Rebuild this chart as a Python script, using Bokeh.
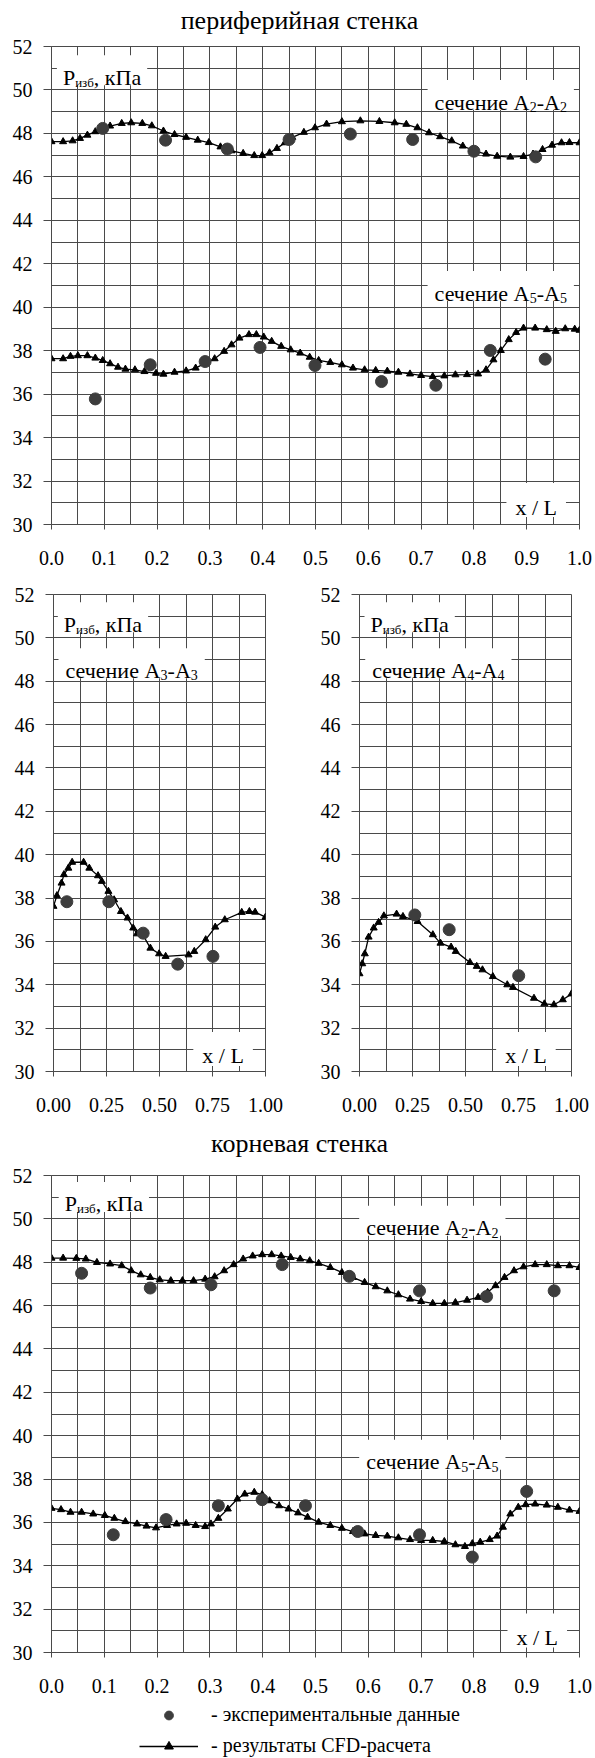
from bokeh.plotting import figure
from bokeh.layouts import column, row
from bokeh.models import Range1d, FixedTicker, PrintfTickFormatter, Legend, LegendItem
from bokeh.core.properties import value
from bokeh.embed import file_html
from bokeh.resources import INLINE

FONT = "Liberation Serif"
GRID = "#4a4a4a"
DOT = "#3d3d3d"

# ---------------- data ----------------
# peripheral wall, section A2-A2
per_a2_cfd_x = [0, 0.022, 0.040, 0.054, 0.068, 0.083, 0.097, 0.111, 0.133, 0.151, 0.172, 0.190, 0.212,
                0.233, 0.255, 0.277, 0.298, 0.320, 0.341, 0.363, 0.384, 0.399, 0.413, 0.427, 0.442, 0.456,
                0.478, 0.499, 0.521, 0.550, 0.585, 0.621, 0.650, 0.672, 0.693, 0.715, 0.736, 0.758, 0.779,
                0.801, 0.823, 0.844, 0.869, 0.894, 0.912, 0.930, 0.948, 0.966, 0.981, 1.0]
per_a2_cfd_y = [47.62, 47.62, 47.66, 47.77, 47.92, 48.08, 48.23, 48.34, 48.46, 48.49, 48.46, 48.35, 48.11,
                47.95, 47.82, 47.69, 47.58, 47.38, 47.20, 47.08, 46.98, 46.98, 47.11, 47.31, 47.57, 47.82,
                48.05, 48.26, 48.43, 48.54, 48.58, 48.55, 48.49, 48.42, 48.26, 48.03, 47.85, 47.66, 47.42,
                47.20, 47.05, 46.95, 46.91, 46.94, 47.05, 47.26, 47.46, 47.57, 47.58, 47.57]
per_a2_exp_x = [0.097, 0.216, 0.333, 0.450, 0.566, 0.684, 0.800, 0.917]
per_a2_exp_y = [48.23, 47.69, 47.28, 47.72, 47.97, 47.72, 47.18, 46.92]

# peripheral wall, section A5-A5
per_a5_cfd_x = [0, 0.022, 0.036, 0.050, 0.068, 0.083, 0.097, 0.111, 0.126, 0.140, 0.158, 0.176, 0.198,
                0.212, 0.233, 0.255, 0.273, 0.291, 0.309, 0.327, 0.341, 0.356, 0.374, 0.388, 0.402, 0.417,
                0.435, 0.453, 0.471, 0.489, 0.506, 0.528, 0.550, 0.571, 0.593, 0.614, 0.636, 0.657, 0.679,
                0.700, 0.722, 0.744, 0.765, 0.787, 0.808, 0.823, 0.837, 0.851, 0.866, 0.880, 0.894, 0.916,
                0.938, 0.955, 0.973, 0.991, 1.0]
per_a5_cfd_y = [37.63, 37.63, 37.74, 37.77, 37.77, 37.66, 37.55, 37.40, 37.24, 37.15, 37.12, 37.04, 36.96,
                36.92, 37.01, 37.07, 37.20, 37.43, 37.63, 37.97, 38.27, 38.58, 38.74, 38.74, 38.63, 38.43,
                38.20, 38.04, 37.89, 37.70, 37.55, 37.46, 37.35, 37.20, 37.12, 37.09, 37.06, 37.01, 36.93,
                36.86, 36.81, 36.84, 36.89, 36.90, 36.93, 37.12, 37.58, 38.01, 38.51, 38.84, 39.04, 39.04,
                38.97, 38.89, 39.01, 38.99, 38.94]
per_a5_exp_x = [0.083, 0.187, 0.291, 0.395, 0.499, 0.625, 0.728, 0.831, 0.935]
per_a5_exp_y = [35.78, 37.35, 37.50, 38.15, 37.32, 36.58, 36.41, 38.01, 37.61]

# section A3-A3
a3_cfd_x = [0, 0.016, 0.038, 0.049, 0.070, 0.088, 0.142, 0.169, 0.210, 0.228, 0.259, 0.286, 0.318, 0.349,
            0.376, 0.394, 0.421, 0.457, 0.498, 0.529, 0.637, 0.664, 0.718, 0.763, 0.808, 0.888, 0.924,
            0.951, 1.0]
a3_cfd_y = [37.62, 38.11, 38.69, 39.08, 39.38, 39.65, 39.65, 39.38, 39.03, 38.77, 38.31, 37.92, 37.38,
            37.08, 36.62, 36.35, 36.31, 35.69, 35.43, 35.31, 35.38, 35.54, 36.08, 36.66, 37.00, 37.34,
            37.38, 37.35, 37.12]
a3_exp_x = [0.063, 0.261, 0.423, 0.586, 0.752]
a3_exp_y = [37.83, 37.83, 36.38, 34.95, 35.31]

# section A4-A4
a4_cfd_x = [0, 0.013, 0.025, 0.043, 0.067, 0.090, 0.115, 0.175, 0.205, 0.274, 0.346, 0.382, 0.432,
            0.454, 0.521, 0.553, 0.580, 0.629, 0.697, 0.724, 0.823, 0.872, 0.917, 0.959, 1.0]
a4_cfd_y = [34.51, 34.97, 35.43, 36.20, 36.62, 36.88, 37.18, 37.26, 37.15, 36.92, 36.31, 35.92, 35.74,
            35.54, 35.03, 34.85, 34.69, 34.38, 34.00, 33.88, 33.38, 33.12, 33.08, 33.31, 33.58]
a4_exp_x = [0.261, 0.423, 0.751]
a4_exp_y = [37.22, 36.54, 34.42]

# root wall, section A2-A2
root_a2_cfd_x = [0, 0.022, 0.047, 0.065, 0.086, 0.111, 0.133, 0.151, 0.169, 0.187, 0.205, 0.226, 0.248,
                 0.269, 0.291, 0.309, 0.327, 0.345, 0.363, 0.381, 0.399, 0.417, 0.435, 0.453, 0.471, 0.489,
                 0.506, 0.528, 0.550, 0.571, 0.593, 0.614, 0.636, 0.657, 0.679, 0.700, 0.722, 0.744, 0.765,
                 0.787, 0.808, 0.826, 0.841, 0.858, 0.876, 0.894, 0.916, 0.938, 0.959, 0.981, 1.0]
root_a2_cfd_y = [48.19, 48.19, 48.18, 48.15, 47.99, 47.92, 47.84, 47.61, 47.42, 47.30, 47.19, 47.15, 47.15,
                 47.15, 47.22, 47.33, 47.61, 47.89, 48.15, 48.29, 48.35, 48.35, 48.29, 48.22, 48.15, 48.07,
                 47.95, 47.76, 47.53, 47.30, 47.07, 46.87, 46.68, 46.50, 46.30, 46.19, 46.10, 46.10, 46.14,
                 46.25, 46.38, 46.61, 46.92, 47.30, 47.61, 47.79, 47.89, 47.89, 47.84, 47.84, 47.76]
root_a2_exp_x = [0.057, 0.187, 0.302, 0.437, 0.564, 0.697, 0.824, 0.952]
root_a2_exp_y = [47.49, 46.81, 46.96, 47.89, 47.35, 46.68, 46.42, 46.68]

# root wall, section A5-A5
root_a5_cfd_x = [0, 0.018, 0.036, 0.057, 0.079, 0.101, 0.119, 0.140, 0.162, 0.180, 0.198, 0.219, 0.237,
                 0.255, 0.273, 0.291, 0.302, 0.316, 0.334, 0.352, 0.366, 0.384, 0.399, 0.413, 0.431, 0.449,
                 0.467, 0.485, 0.506, 0.528, 0.550, 0.571, 0.593, 0.614, 0.636, 0.657, 0.679, 0.700, 0.722,
                 0.744, 0.765, 0.783, 0.797, 0.812, 0.830, 0.844, 0.855, 0.869, 0.884, 0.898, 0.916, 0.938,
                 0.959, 0.981, 1.0]
root_a5_cfd_y = [36.65, 36.59, 36.47, 36.47, 36.39, 36.32, 36.19, 36.04, 35.93, 35.83, 35.75, 35.86, 35.93,
                 35.96, 35.86, 35.81, 35.93, 36.19, 36.62, 37.08, 37.31, 37.39, 37.28, 37.00, 36.77, 36.62,
                 36.44, 36.24, 36.01, 35.86, 35.73, 35.58, 35.47, 35.40, 35.37, 35.29, 35.21, 35.17, 35.17,
                 35.12, 34.97, 34.89, 35.02, 35.09, 35.21, 35.37, 35.78, 36.39, 36.70, 36.82, 36.85, 36.80,
                 36.70, 36.57, 36.51]
root_a5_exp_x = [0.117, 0.217, 0.316, 0.399, 0.481, 0.580, 0.697, 0.797, 0.900]
root_a5_exp_y = [35.43, 36.13, 36.77, 37.05, 36.77, 35.58, 35.43, 34.40, 37.43]

# axes / tick definitions
y_ticks = list(range(30, 53, 2))
y_grid = list(range(30, 53, 1))
x_ticks_wide = [i / 10 for i in range(11)]
x_grid_wide = [i / 20 for i in range(21)]
x_ticks_narrow = [i / 4 for i in range(5)]
x_grid_narrow = [i / 8 for i in range(9)]

TITLE_TOP = "периферийная стенка"
TITLE_BOTTOM = "корневая стенка"
LEG_EXP = "- экспериментальные данные"
LEG_CFD = "- результаты CFD-расчета"

# approximate advance widths (em) for Liberation Serif
CW = {'P': 0.556, 'A': 0.722, 'x': 0.5, 'L': 0.611, '/': 0.278, ' ': 0.25, ',': 0.25, '-': 0.333,
      'а': 0.444, 'б': 0.509, 'в': 0.472, 'е': 0.444, 'з': 0.395, 'и': 0.535, 'к': 0.486, 'н': 0.535,
      'П': 0.722, 'с': 0.444, 'ч': 0.503}

# frame borders shared by the full-width panels (the column aligns them)
WIDE_LEFT, WIDE_RIGHT = 51, 16


def tw(s, size):
    return sum(CW.get(c, 0.5) for c in s) * size


def make_plot(width, height, mbl, mbr, mbt, mbb, xt, xg, fmt):
    p = figure(width=width, height=height, x_range=Range1d(0, 1), y_range=Range1d(30, 52),
               output_backend="svg", toolbar_location=None,
               min_border_left=mbl, min_border_right=mbr, min_border_top=mbt, min_border_bottom=mbb)
    p.background_fill_color = "white"
    p.border_fill_color = "white"
    p.outline_line_color = GRID
    p.outline_line_width = 1
    for ax in (p.xaxis, p.yaxis):
        ax.axis_line_color = GRID
        ax.major_tick_line_color = GRID
        ax.minor_tick_line_color = None
        ax.major_tick_in = 0
        ax.major_label_text_font = FONT
        ax.major_label_text_font_size = "20px"
        ax.major_label_text_color = "black"
    p.xaxis.ticker = FixedTicker(ticks=xt)
    p.xaxis.formatter = PrintfTickFormatter(format=fmt)
    p.xaxis.major_tick_out = 5
    p.xaxis.major_label_standoff = 21
    p.yaxis.ticker = FixedTicker(ticks=y_ticks)
    p.yaxis.formatter = PrintfTickFormatter(format="%d")
    p.yaxis.major_tick_out = 8
    p.yaxis.major_label_standoff = 11
    p.xgrid.ticker = FixedTicker(ticks=xg)
    p.ygrid.ticker = FixedTicker(ticks=y_grid)
    p.xgrid.grid_line_color = GRID
    p.ygrid.grid_line_color = GRID
    return p


def rich(p, fw, fh, x0, y0, pieces, align="left", pad=7, box_h=30):
    widths = [tw(t, s) for t, s, d in pieces]
    total = sum(widths)
    start = x0 - total / 2 / fw if align == "center" else x0
    cx = start + total / 2 / fw
    cy = y0 + 7 * 22 / fh
    p.rect(x=[cx], y=[cy], width=[total + 2 * pad], height=[box_h], width_units="screen",
           height_units="screen", fill_color="white", line_color=None)
    xc = start
    for (t, s, d), w in zip(pieces, widths):
        p.text(x=[xc], y=[y0 - d * 22 / fh], text=[t], text_font=value(FONT), text_font_size=f"{s}px",
               text_baseline="alphabetic", text_align="left", text_color="black")
        xc += w / fw


def p_label(p, fw, fh, x0, y0):
    rich(p, fw, fh, x0, y0, [("P", 22, 0), ("изб", 13, 5), (", кПа", 22, 0)], pad=6)


def sec_label(p, fw, fh, x0, y0, n):
    rich(p, fw, fh, x0, y0, [("сечение A", 22, 0), (n, 14, 5), ("-A", 22, 0), (n, 14, 5)], pad=7)


def xl_label(p, fw, fh, xc, y0):
    rich(p, fw, fh, xc, y0, [("x / L", 22, 0)], align="center", pad=9, box_h=34)


def series(p, cx, cy, ex, ey, visible=True):
    line = p.line(cx, cy, line_color="black", line_width=1.3, visible=visible)
    tri = p.scatter(cx, cy, marker="triangle", size=7, fill_color="black", line_color="black",
                    visible=visible)
    dots = p.scatter(ex, ey, marker="circle", size=12, fill_color=DOT, line_color=DOT, visible=visible)
    return line, tri, dots


def title_fig(h, text, baseline):
    t = figure(width=595, height=h, x_range=Range1d(0, 1), y_range=Range1d(0, h),
               x_axis_type=None, y_axis_type=None, output_backend="svg", toolbar_location=None,
               min_border_left=WIDE_LEFT, min_border_right=WIDE_RIGHT, min_border_top=0,
               min_border_bottom=0, outline_line_color=None)
    t.text(x=[(299 - WIDE_LEFT) / 528], y=[baseline], text=[text], text_font=value(FONT),
           text_font_size="26px", text_align="center", text_baseline="alphabetic", text_color="black")
    return t


# ---------------- top title ----------------
t1 = title_fig(34, TITLE_TOP, 14)

# ---------------- peripheral wall ----------------
FW, FH = 528, 478
p1 = make_plot(595, 541, WIDE_LEFT, WIDE_RIGHT, 12, 51, x_ticks_wide, x_grid_wide, "%.1f")
p_label(p1, FW, FH, 0.0216, 50.59)
sec_label(p1, FW, FH, 0.7256, 49.44, "2")
sec_label(p1, FW, FH, 0.7256, 40.65, "5")
xl_label(p1, FW, FH, 0.918, 30.8)
series(p1, per_a2_cfd_x, per_a2_cfd_y, per_a2_exp_x, per_a2_exp_y)
series(p1, per_a5_cfd_x, per_a5_cfd_y, per_a5_exp_x, per_a5_exp_y)

# ---------------- middle row ----------------
MW, MH = 212, 477
pl = make_plot(298, 543, 53, 33, 19, 47, x_ticks_narrow, x_grid_narrow, "%.2f")
p_label(pl, MW, MH, 0.0487, 50.63)
sec_label(pl, MW, MH, 0.0566, 48.51, "3")
xl_label(pl, MW, MH, 0.80, 30.72)
series(pl, a3_cfd_x, a3_cfd_y, a3_exp_x, a3_exp_y)

pr = make_plot(297, 543, 61, 24, 19, 47, x_ticks_narrow, x_grid_narrow, "%.2f")
p_label(pr, MW, MH, 0.052, 50.63)
sec_label(pr, MW, MH, 0.06, 48.51, "4")
xl_label(pr, MW, MH, 0.785, 30.72)
series(pr, a4_cfd_x, a4_cfd_y, a4_exp_x, a4_exp_y)

# ---------------- bottom title ----------------
t2 = title_fig(40, TITLE_BOTTOM, 15)

# ---------------- root wall ----------------
p2 = make_plot(595, 542, WIDE_LEFT, WIDE_RIGHT, 17, 48, x_ticks_wide, x_grid_wide, "%.1f")
p_label(p2, FW, 477, 0.025, 50.69)
sec_label(p2, FW, 477, 0.596, 49.59, "2")
sec_label(p2, FW, 477, 0.596, 38.80, "5")
xl_label(p2, FW, 477, 0.92, 30.69)
series(p2, root_a2_cfd_x, root_a2_cfd_y, root_a2_exp_x, root_a2_exp_y)
series(p2, root_a5_cfd_x, root_a5_cfd_y, root_a5_exp_x, root_a5_exp_y)

# ---------------- legend ----------------
lg = figure(width=595, height=58, x_range=Range1d(0, 1), y_range=Range1d(30, 52),
            x_axis_type=None, y_axis_type=None, output_backend="svg", toolbar_location=None,
            min_border_left=WIDE_LEFT, min_border_right=WIDE_RIGHT, min_border_top=0,
            min_border_bottom=0, outline_line_color=None)
l_line, l_tri, l_dot = series(lg, root_a5_cfd_x, root_a5_cfd_y, root_a5_exp_x, root_a5_exp_y,
                              visible=False)
legend = Legend(items=[LegendItem(label=LEG_EXP, renderers=[l_dot]),
                       LegendItem(label=LEG_CFD, renderers=[l_line, l_tri])],
                location=(139 - WIDE_LEFT, 1), orientation="vertical", padding=0, margin=0, spacing=8,
                glyph_width=59, glyph_height=22, label_height=22, label_standoff=13,
                label_text_font=FONT, label_text_font_size="20px", label_text_color="black",
                border_line_color=None, background_fill_alpha=0, inactive_fill_alpha=0)
lg.add_layout(legend, "center")

layout = column(t1, p1, row(pl, pr), t2, p2, lg)
open("out.html", "w").write(file_html(layout, INLINE))
